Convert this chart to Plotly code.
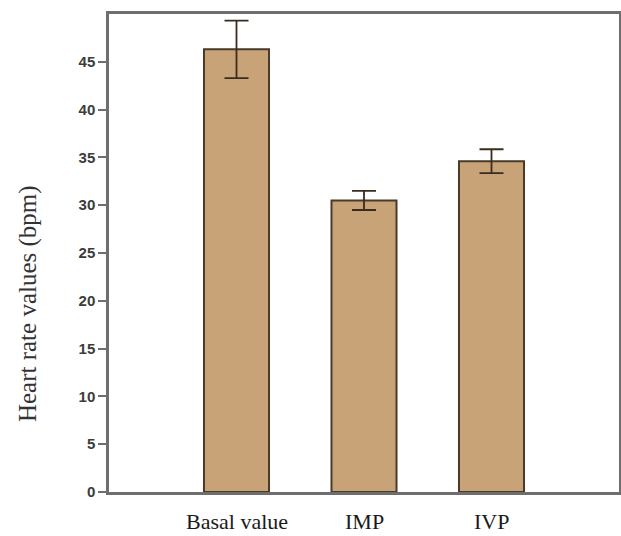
import plotly.graph_objects as go

categories = ["Basal value", "IMP", "IVP"]
means = [46.3, 30.5, 34.6]
errors = [3.0, 1.0, 1.25]
y_ticks = [0, 5, 10, 15, 20, 25, 30, 35, 40, 45]

x_pos = list(range(1, len(categories) + 1))

fig = go.Figure()
fig.add_trace(go.Bar(
    x=x_pos, y=means, width=0.51,
    marker=dict(color="#C9A378", line=dict(color="#4a3a2a", width=2)),
    error_y=dict(type="data", array=errors, visible=True,
                 color="#3a2c1f", thickness=1.8, width=12),
    showlegend=False,
))

axis_col = "#6e6e6e"
fig.update_layout(
    width=621, height=536,
    margin=dict(l=109, r=2, t=14, b=44),
    paper_bgcolor="white", plot_bgcolor="white",
    xaxis=dict(range=[0, 4], showline=True, linecolor=axis_col, linewidth=2.5,
               mirror=True, showgrid=False, zeroline=False, ticks="",
               showticklabels=False, automargin=False),
    yaxis=dict(range=[0, 50], showline=True, linecolor=axis_col, linewidth=2.5,
               mirror=True, showgrid=False, zeroline=False, ticks="outside",
               ticklen=8, tickwidth=2, tickcolor=axis_col,
               tickvals=y_ticks, automargin=False,
               tickfont=dict(family="Liberation Sans, Arial", size=15,
                             color="#3c3c3c", weight="bold")),
)

for xp, lab in zip(x_pos, categories):
    fig.add_annotation(x=xp, y=-0.062, xref="x", yref="paper", text=lab,
                       showarrow=False, yanchor="middle", xanchor="center",
                       font=dict(family="Liberation Serif, Times New Roman", size=22,
                                 color="#1a1a1a"))

fig.add_annotation(x=-0.159, y=0.395, xref="paper", yref="paper",
                   text="Heart rate values (bpm)", textangle=-90, showarrow=False,
                   xanchor="center", yanchor="middle",
                   font=dict(family="Liberation Serif, Times New Roman", size=25,
                             color="#333333"))

fig.write_html("out.html", config={"displayModeBar": False},
               post_script="document.body.style.margin='0';document.body.style.padding='0';")
